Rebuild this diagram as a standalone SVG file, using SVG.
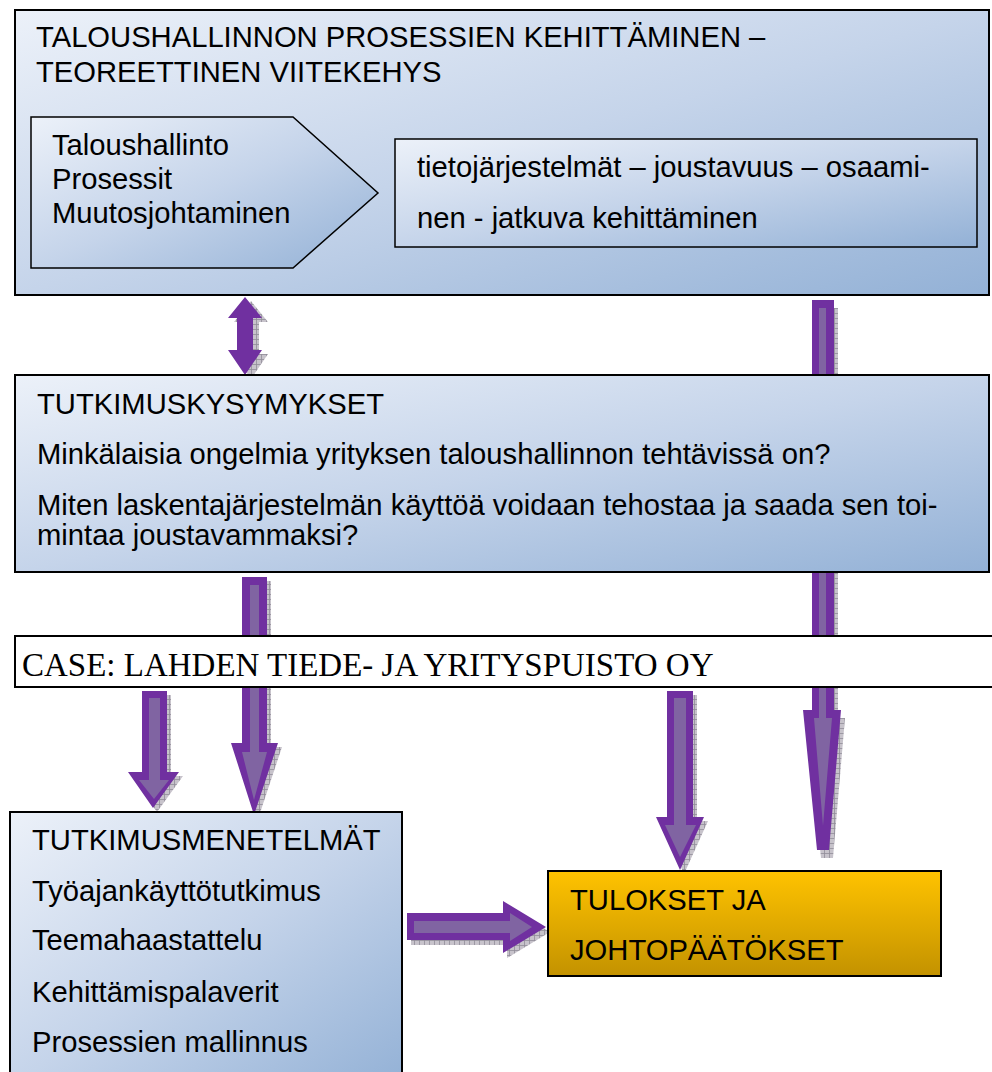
<svg xmlns="http://www.w3.org/2000/svg" xmlns:xlink="http://www.w3.org/1999/xlink" width="992" height="1072" viewBox="0 0 992 1072">
  <style>
    .t { font-family: "Liberation Sans", Arial, sans-serif; font-size: 29.2px; fill: #000; }
    .serif { font-family: "Liberation Serif", "Times New Roman", serif; font-size: 33px; fill: #000; }
    .box { fill: url(#blueGrad); stroke: #000; stroke-width: 2; }
    .inner { fill: url(#blueGrad); stroke: #000; stroke-width: 1.5; }
    .white { fill: #fff; stroke: #000; stroke-width: 2; }
    .gold { fill: url(#goldGrad); stroke: #000; stroke-width: 2; }
    .shadow { fill: url(#hatch); opacity: 0.85; }
    .outline { fill: #7030A0; }
    .core { fill: #8064A2; }
  </style>
  <defs>
    <linearGradient id="blueGrad" x1="0" y1="0" x2="1" y2="1">
      <stop offset="0" stop-color="#ECF1F9"/>
      <stop offset="0.5" stop-color="#C5D4EA"/>
      <stop offset="1" stop-color="#93B1D6"/>
    </linearGradient>
    <linearGradient id="goldGrad" x1="0" y1="0" x2="0" y2="1">
      <stop offset="0" stop-color="#FFC300"/>
      <stop offset="1" stop-color="#C39200"/>
    </linearGradient>
    <pattern id="hatch" width="5" height="5" patternUnits="userSpaceOnUse">
      <rect width="5" height="5" fill="#bdb8c2"/>
      <path d="M0 0.5H5M0.5 0V5" stroke="#7e7886" stroke-width="0.8"/>
    </pattern>
    <!-- arrow outlines, reused for the drop shadows -->
    <polygon id="arrA" points="245,297 262,318 253,318 253,350 262,350 245,375 228,350 237,350 237,318 228,318"/>
    <polygon id="arrB" points="812,300 834,300 834,710 841,710 829,850 817,850 803,710 812,710"/>
    <polygon id="arrC" points="242,577 267,577 267,743 278,743 254,815 231,743 242,743"/>
    <polygon id="arrD" points="142,691 167,691 167,772 179,772 153,808 128,772 142,772"/>
    <polygon id="arrE" points="667,691 693,691 693,817 704,817 680,870 656,817 667,817"/>
    <polygon id="arrF" points="407,913 503,913 503,901 546,927 503,953 503,940 407,940"/>
  </defs>

  <rect width="992" height="1072" fill="#fff"/>

  <!-- connectors -->
  <g id="connectors">
    <use xlink:href="#arrA" class="shadow" transform="translate(6,4)"/>
    <use xlink:href="#arrA" class="outline"/>

    <use xlink:href="#arrB" class="shadow" transform="translate(4,8)"/>
    <use xlink:href="#arrB" class="outline"/>
    <polygon class="core" points="819,308 826,308 826,718 832,718 823,826 814,718 819,718"/>

    <use xlink:href="#arrC" class="shadow" transform="translate(4,4)"/>
    <use xlink:href="#arrC" class="outline"/>
    <polygon class="core" points="250,585 259,585 259,752 267,752 254,800 242,752 250,752"/>

    <use xlink:href="#arrD" class="shadow" transform="translate(4,4)"/>
    <use xlink:href="#arrD" class="outline"/>
    <polygon class="core" points="149,698 160,698 160,780 169,780 154,799 139,780 149,780"/>

    <use xlink:href="#arrE" class="shadow" transform="translate(4,4)"/>
    <use xlink:href="#arrE" class="outline"/>
    <polygon class="core" points="674,698 686,698 686,825 696,825 680,857 665,825 674,825"/>

    <use xlink:href="#arrF" class="shadow" transform="translate(4,5)"/>
    <use xlink:href="#arrF" class="outline"/>
    <polygon class="core" points="414,921 510,921 510,913 532,927 510,941 510,933 414,933"/>
  </g>

  <!-- theoretical framework -->
  <g id="framework">
    <rect class="box" x="15" y="10" width="974" height="285"/>
    <text class="t" x="36" y="47">TALOUSHALLINNON PROSESSIEN KEHITTÄMINEN –</text>
    <text class="t" x="36" y="82">TEOREETTINEN VIITEKEHYS</text>
  </g>
  <g id="themes">
    <polygon class="inner" points="31,117 293,117 378,193 293,268 31,268"/>
    <text class="t" x="52" y="155">Taloushallinto</text>
    <text class="t" x="52" y="189">Prosessit</text>
    <text class="t" x="52" y="223">Muutosjohtaminen</text>
  </g>
  <g id="focus">
    <rect class="inner" x="395" y="139" width="582" height="108"/>
    <text class="t" x="417" y="177">tietojärjestelmät – joustavuus – osaami-</text>
    <text class="t" x="417" y="228">nen - jatkuva kehittäminen</text>
  </g>

  <!-- research questions -->
  <g id="questions">
    <rect class="box" x="15" y="375" width="974" height="197"/>
    <text class="t" x="37" y="414">TUTKIMUSKYSYMYKSET</text>
    <text class="t" x="37" y="464">Minkälaisia ongelmia yrityksen taloushallinnon tehtävissä on?</text>
    <text class="t" x="37" y="515">Miten laskentajärjestelmän käyttöä voidaan tehostaa ja saada sen toi-</text>
    <text class="t" x="37" y="545">mintaa joustavammaksi?</text>
  </g>

  <!-- case company -->
  <g id="case">
    <rect class="white" x="15" y="636" width="990" height="51"/>
    <text class="serif" x="22" y="676">CASE: LAHDEN TIEDE- JA YRITYSPUISTO OY</text>
  </g>

  <!-- research methods -->
  <g id="methods">
    <rect class="box" x="10" y="812" width="392" height="275"/>
    <text class="t" x="32" y="850">TUTKIMUSMENETELMÄT</text>
    <text class="t" x="32" y="901">Työajankäyttötutkimus</text>
    <text class="t" x="32" y="950">Teemahaastattelu</text>
    <text class="t" x="32" y="1002">Kehittämispalaverit</text>
    <text class="t" x="32" y="1052">Prosessien mallinnus</text>
  </g>

  <!-- results -->
  <g id="results">
    <rect class="gold" x="548" y="871" width="393" height="105"/>
    <text class="t" x="570" y="910">TULOKSET JA</text>
    <text class="t" x="570" y="960">JOHTOPÄÄTÖKSET</text>
  </g>
</svg>
